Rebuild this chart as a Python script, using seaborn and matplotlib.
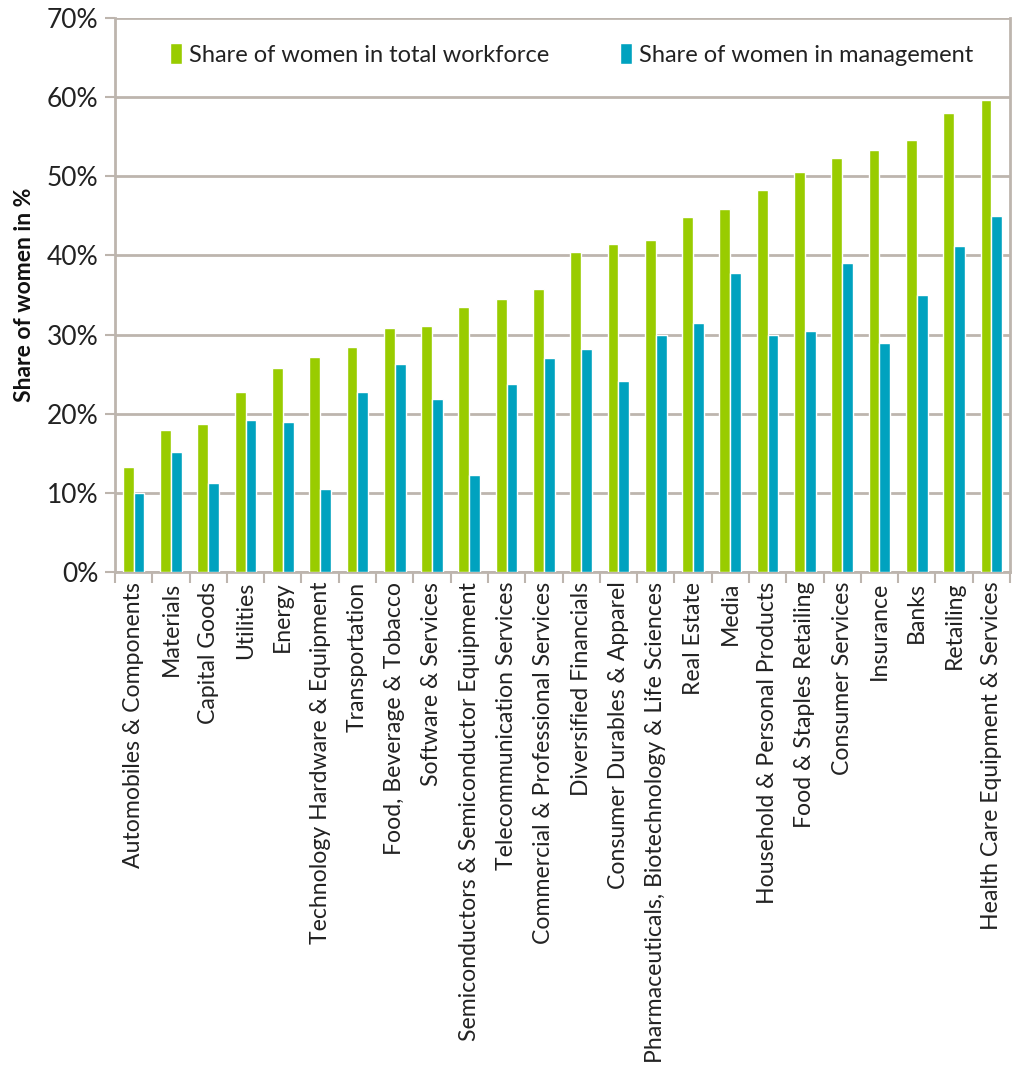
import matplotlib
matplotlib.use("Agg")
import matplotlib.pyplot as plt
import seaborn as sns
import pandas as pd
from matplotlib.ticker import FuncFormatter, FixedLocator

categories = [
    "Automobiles & Components", "Materials", "Capital Goods", "Utilities", "Energy",
    "Technology Hardware & Equipment", "Transportation", "Food, Beverage & Tobacco",
    "Software & Services", "Semiconductors & Semiconductor Equipment",
    "Telecommunication Services", "Commercial & Professional Services",
    "Diversified Financials", "Consumer Durables & Apparel",
    "Pharmaceuticals, Biotechnology & Life Sciences", "Real Estate", "Media",
    "Household & Personal Products", "Food & Staples Retailing", "Consumer Services",
    "Insurance", "Banks", "Retailing", "Health Care Equipment & Services",
]
workforce = [13.3, 18.0, 18.7, 22.7, 25.8, 27.2, 28.4, 30.8, 31.1, 33.5, 34.5, 35.8,
             40.4, 41.5, 41.9, 44.9, 45.9, 48.3, 50.6, 52.3, 53.3, 54.6, 58.0, 59.6]
management = [10.0, 15.1, 11.2, 19.2, 19.0, 10.5, 22.8, 26.3, 21.9, 12.3, 23.7, 27.1,
              28.2, 24.1, 29.9, 31.5, 37.8, 30.0, 30.4, 39.0, 28.9, 35.0, 41.2, 45.0]
series_names = ["Share of women in total workforce", "Share of women in management"]
y_ticks = [0, 10, 20, 30, 40, 50, 60, 70]

df = pd.concat([
    pd.DataFrame({"Industry": categories, "Series": series_names[0], "Value": workforce}),
    pd.DataFrame({"Industry": categories, "Series": series_names[1], "Value": management}),
])

sns.set_theme(style="white")
plt.rcParams["font.family"] = ["Lato", "DejaVu Sans"]

grid_c = "#BDB5AE"
fig = plt.figure(figsize=(10.14, 10.75), dpi=100)
ax = fig.add_axes([115 / 1014, 1 - 572 / 1075, (1010 - 115) / 1014, (572 - 18) / 1075])

sns.barplot(data=df, x="Industry", y="Value", hue="Series", order=categories,
            hue_order=series_names, palette=["#99CC00", "#00A2BF"], width=0.58,
            gap=0, saturation=1, ax=ax, legend=True, zorder=3)

ax.set_ylim(0, 70)
ax.set_xlim(-0.5, len(categories) - 0.5)
ax.yaxis.set_major_locator(FixedLocator(y_ticks))
ax.yaxis.set_major_formatter(FuncFormatter(lambda v, p: f"{v:.0f}%"))
ax.grid(axis="y", color=grid_c, linewidth=2, zorder=0)
ax.set_axisbelow(True)
for s in ["left", "bottom", "right"]:
    ax.spines[s].set_visible(True)
    ax.spines[s].set_color(grid_c)
    ax.spines[s].set_linewidth(2)
ax.spines["top"].set_visible(False)

ax.tick_params(axis="y", labelsize=19, colors="#222222", length=7, width=1.5,
               direction="out", left=True, color=grid_c, pad=5)
ax.set_xticks(range(len(categories)))
ax.set_xticklabels(categories, rotation=90, fontsize=16.6, color="#222222")
ax.tick_params(axis="x", length=0, pad=7)
ax.set_xticks([i - 0.5 for i in range(len(categories) + 1)], minor=True)
ax.tick_params(axis="x", which="minor", length=8, width=1.5, color=grid_c, direction="out", bottom=True)
for lbl in ax.get_yticklabels():
    lbl.set_color("#222222")

ax.set_xlabel("")
ax.set_ylabel("Share of women in %", fontsize=16.5, fontweight="bold", color="#111111", labelpad=8)

leg = ax.legend(loc="upper center", bbox_to_anchor=(0.51, 0.993), ncol=2, frameon=False,
                fontsize=17, handlelength=0.5, handleheight=1.0, handletextpad=0.3,
                columnspacing=3.0)
for t in leg.get_texts():
    t.set_color("#222222")

fig.savefig("out.png", dpi=100)
